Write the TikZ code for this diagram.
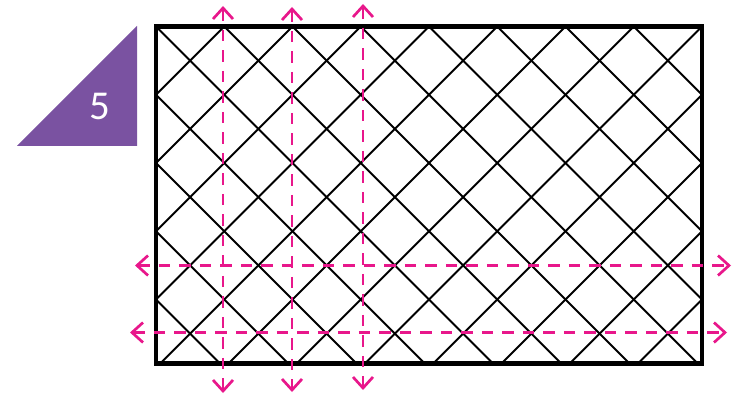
\documentclass[tikz,border=0pt]{standalone}
\usepackage{fontspec}
\setmainfont{Carlito}
\usetikzlibrary{arrows.meta}
\definecolor{pinkline}{RGB}{232,23,139}
\definecolor{purpletri}{RGB}{122,82,161}
\tikzset{
  gridline/.style={line width=2.1pt, black},
  border/.style={line width=4.6pt, black},
  pinkdash/.style={line width=2.7pt, pinkline, dash pattern=on 11.5pt off 9pt,
    {Straight Barb[length=11pt,width=20pt]}-{Straight Barb[length=11pt,width=20pt]}},
}
\begin{document}
\begin{tikzpicture}[x=1pt,y=-1pt]
\useasboundingbox (0,0) rectangle (733,398);
% purple triangle with number
\fill[purpletri] (137,26) -- (17,146) -- (137,146) -- cycle;
\node[text=white, font=\fontsize{41}{41}\selectfont, inner sep=0pt] (num) at (100,106) {5};
% diagonal grid
\begin{scope}
\clip (156,26.5) rectangle (702,363.5);
\foreach \k in {-6,...,14} {
  \draw[gridline] ({156+68.25*\k-400},{26.5-400}) -- ++(800,800);
  \draw[gridline] ({156+68.25*\k+400},{26.5-400}) -- ++(-800,800);
}
\end{scope}
% border
\draw[border] (156,26.5) rectangle (702,363.5);
% pink dashed axes
\coordinate (v1t) at (223,6);   \coordinate (v1b) at (223,393);
\coordinate (v2t) at (292,7);   \coordinate (v2b) at (292,392);
\coordinate (v3t) at (363,4);   \coordinate (v3b) at (363,390);
\coordinate (h1l) at (135,265.5); \coordinate (h1r) at (731,265.5);
\coordinate (h2l) at (130,332.5); \coordinate (h2r) at (727,332.5);
\draw[pinkdash] (v1t) -- (v1b);
\draw[pinkdash] (v2t) -- (v2b);
\draw[pinkdash] (v3t) -- (v3b);
\draw[pinkdash] (h1l) -- (h1r);
\draw[pinkdash] (h2l) -- (h2r);
\end{tikzpicture}
\end{document}
